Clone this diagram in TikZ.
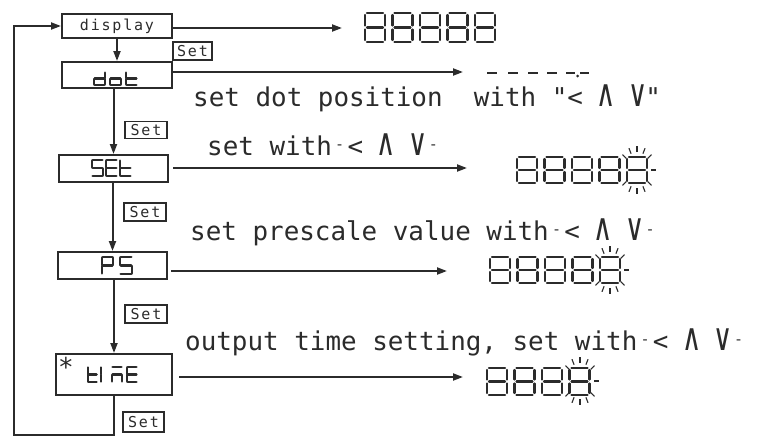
\documentclass[tikz,border=0pt]{standalone}
\usepackage{fontspec}
\usepackage{graphicx}
\usetikzlibrary{arrows.meta,calc}
\newfontfamily\monof{DejaVu Sans Mono}
\newfontfamily\monosp[LetterSpace=12]{DejaVu Sans Mono}
\definecolor{ink}{HTML}{2B2B2B}
\newcommand\qd{\makebox[0.602em]{\raisebox{0.22em}{\fontsize{15}{15}\selectfont -}}}
\newcommand\wedgeA{\makebox[0.602em]{\scalebox{1.1}[1.45]{∧}}}
\newcommand\veeA{\makebox[0.602em]{\scalebox{1.1}[1.45]{∨}}}
\def\gapf{0.1}
\newcommand\sevseg[6]{%
\begin{scope}[shift={({#1},{#2})}]
\pgfmathsetmacro\segW{#3}\pgfmathsetmacro\segH{#4}\pgfmathsetmacro\segG{\gapf*#3}\pgfmathsetmacro\segM{#4/2}
\coordinate (s-a-1) at (\segG,0); \coordinate (s-a-2) at ({\segW-\segG},0);
\coordinate (s-b-1) at (\segW,\segG); \coordinate (s-b-2) at (\segW,{\segM-\segG});
\coordinate (s-c-1) at (\segW,{\segM+\segG}); \coordinate (s-c-2) at (\segW,{\segH-\segG});
\coordinate (s-d-1) at (\segG,\segH); \coordinate (s-d-2) at ({\segW-\segG},\segH);
\coordinate (s-e-1) at (0,{\segM+\segG}); \coordinate (s-e-2) at (0,{\segH-\segG});
\coordinate (s-f-1) at (0,\segG); \coordinate (s-f-2) at (0,{\segM-\segG});
\coordinate (s-g-1) at (\segG,\segM); \coordinate (s-g-2) at ({\segW-\segG},\segM);
\foreach \s in {#6}{\draw[#5] (s-\s-1) -- (s-\s-2);}
\end{scope}}
\newcommand\digitrow[6]{% x0,y0,w,h,pitch,n
\foreach \i in {1,...,#6}{\sevseg{#1+(\i-1)*#5}{#2}{#3}{#4}{dig}{a,b,c,d,e,f,g}}}
\newcommand\blink[2]{%
\foreach \a in {0,40,65,90,115,140,220,245,270,295,320}{\draw[ray] ({#1+14*cos(\a)},{#2-18*sin(\a)}) -- ({#1+19*cos(\a)},{#2-24*sin(\a)});}}
\tikzset{
 box/.style={draw=ink, line width=2pt, inner sep=0pt, fill=white},
 setbox/.style={draw=ink, line width=1.4pt, inner sep=0pt, font=\monosp\fontsize{15}{15}\selectfont, text=ink},
 arr/.style={draw=ink, line width=2pt, -{Triangle[length=10pt,width=7pt]}},
 seg/.style={draw=ink, line width=2.6pt, line cap=round},
 dig/.style={draw=ink, line width=2.2pt, line cap=round},
 ray/.style={draw=ink, line width=1.1pt},
 dash7/.style={draw=ink, line width=2.6pt},
 lbl/.style={font=\monof\fontsize{25.9}{26}\selectfont, text=ink, inner sep=0pt, anchor=base west},
}
\begin{document}
\begin{tikzpicture}[x=1pt,y=-1pt]
\useasboundingbox (0,0) rectangle (760,437);
\fill[white] (0,0) rectangle (760,437);
% boxes
\node[box, minimum width=110pt, minimum height=24pt, font=\monosp\fontsize{15}{15}\selectfont, text=ink] (display) at (117,26) {display};
\node[box, minimum width=110pt, minimum height=26pt] (dot) at (117,75) {};
\node[box, minimum width=109pt, minimum height=27pt] (SEt) at (113.5,168.5) {};
\node[box, minimum width=109pt, minimum height=27pt] (PS) at (112.5,265.5) {};
\node[box, minimum width=116pt, minimum height=41pt] (time) at (114,374.5) {};
% Set labels
\node[setbox, minimum width=39pt, minimum height=18pt] (s1) at (192.5,51) {Set};
\node[setbox, minimum width=42pt, minimum height=17pt] (s2) at (146,130) {Set};
\node[setbox, minimum width=42pt, minimum height=18pt] (s3) at (145,212) {Set};
\node[setbox, minimum width=42pt, minimum height=18pt] (s4) at (146,314) {Set};
\node[setbox, minimum width=41pt, minimum height=20pt] (s5) at (143.5,422) {Set};
% segment letters in boxes
\def\gapf{0.06}
\sevseg{94}{72}{11}{13}{seg}{b,c,d,e,g}
\sevseg{110}{72}{11}{13}{seg}{c,d,e,g}
\sevseg{126}{72}{11}{13}{seg}{d,e,f,g}
\sevseg{92}{160}{11}{16}{seg}{a,f,g,c,d}
\sevseg{106}{160}{11}{16}{seg}{a,f,g,e,d}
\sevseg{120}{160}{11}{16}{seg}{d,e,f,g}
\sevseg{102}{257}{11}{17}{seg}{a,b,f,g,e}
\sevseg{120}{257}{12}{17}{seg}{a,f,g,c,d}
\sevseg{88}{367}{9}{15}{seg}{d,e,f,g}
\sevseg{101}{367}{9}{15}{seg}{e,f}
\sevseg{112}{367}{10}{15}{seg}{a,c,e,g}
\sevseg{127}{367}{10}{15}{seg}{a,f,g,e,d}
\node[font=\monof\fontsize{26}{26}\selectfont, text=ink, inner sep=0pt, anchor=base west] (star) at (58,376) {*};
% vertical arrows
\draw[arr] (display.south) -- (dot.north);
\draw[arr] (dot.south -| SEt) -- (SEt.north);
\draw[arr] (SEt.south -| PS) -- (PS.north);
\draw[arr] (PS.south -| time) -- (time.north);
% horizontal arrows
\coordinate (e1) at (342,28);
\coordinate (e2) at (463,72);
\coordinate (e3) at (467,168);
\coordinate (e4) at (447,271);
\coordinate (e5) at (463,377);
\draw[arr] (display.east |- e1) -- (e1);
\draw[arr] (dot.east |- e2) -- (e2);
\draw[arr, shorten <=4pt] (SEt.east |- e3) -- (e3);
\draw[arr, shorten <=3pt] (PS.east |- e4) -- (e4);
\draw[arr, shorten <=6pt] (time.east |- e5) -- (e5);
% loop back
\coordinate (lb) at (14,435);
\draw[arr] (time.south) |- (lb) |- (display.west);
% texts
\node[lbl] (t1) at (193,106) {set dot position\ \ with "< \wedgeA\ \veeA"};
\node[lbl] (t2) at (207,155) {set with\qd< \wedgeA\ \veeA\qd};
\node[lbl] (t3) at (190,240) {set prescale value with\qd< \wedgeA\ \veeA\qd};
\node[lbl] (t4) at (185,350) {output time setting,\ set with\qd< \wedgeA\ \veeA\qd};
% displays
\def\gapf{0.1}
\digitrow{365}{13}{20}{29}{27.5}{5}
\digitrow{517}{157}{20}{26}{27.5}{5}
\blink{637}{170}
\digitrow{490}{257}{20}{26}{27.5}{5}
\blink{610}{270}
\digitrow{487}{368}{20}{27}{27.5}{4}
\blink{580}{381}
% dashes -----.-
\draw[dash7] (487,73) -- (497,73);
\draw[dash7] (508,73) -- (518,73);
\draw[dash7] (528,73) -- (538,73);
\draw[dash7] (547,73) -- (557,73);
\draw[dash7] (566,73) -- (575,73);
\fill[ink] (577.5,76) circle (1.5pt);
\draw[dash7] (580,73) -- (589,73);
\end{tikzpicture}
\end{document}
